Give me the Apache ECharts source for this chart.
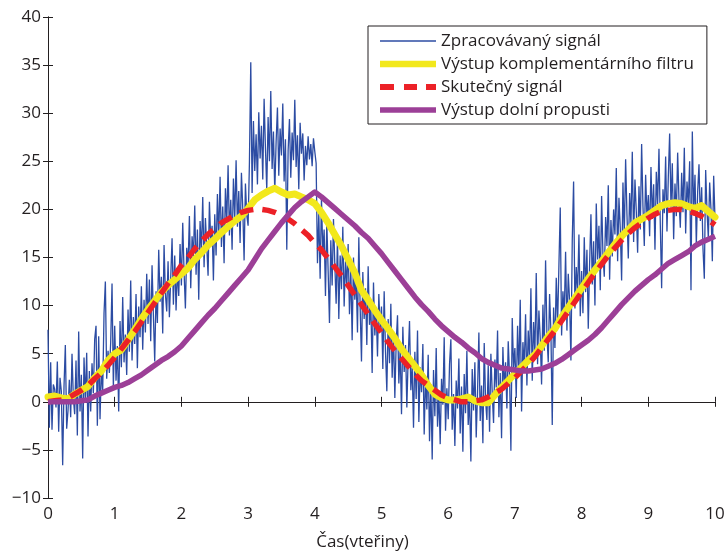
<!DOCTYPE html>
<html>
<head>
<meta charset="utf-8">
<script src="https://cdn.jsdelivr.net/npm/echarts@6/dist/echarts.min.js"></script>
<style>
  html, body { margin: 0; padding: 0; background: #ffffff; }
  #chart { width: 728px; height: 556px; }
</style>
</head>
<body>
<div id="chart"></div>
<script>
// Sampling of the measured (noisy) signal: 0 .. 10 s, every 0.02 s
const noisyStart = 0;
const noisyStep = 0.02;
const noisySignal = [
  7.5, -2.7, 4.1, -2.9, 1.8, 1.3, -0.6, 4.2, -3.1, 2.5, 1.1, -6.6, 1.6, 5.9, -2.8, -0.9, 2.3, -1.6, 5.0, 0.4, -1.3, 4.3, -3.5, 7.3, -1.0,
  2.8, -5.9, 4.6, 0.2, 5.1, -3.6, 3.2, -1.0, 4.0, 0.9, 6.5, 7.9, -2.5, 6.8, -1.8, 3.5, 1.1, 9.2, 12.5, 2.4, 5.3, 3.0, 6.2, 12.3, 1.5,
  7.9, 2.2, 5.8, -1.0, 8.4, 3.6, 10.9, 4.1, 7.0, 2.8, 9.6, 5.2, 12.6, 4.3, 8.8, 6.0, 11.2, 3.5, 9.9, 6.7, 12.0, 5.4, 10.6, 7.2, 13.3,
  8.1, 12.7, 6.3, 14.2, 9.0, 4.2, 11.5, 8.2, 15.8, 10.4, 13.0, 7.1, 16.3, 11.2, 9.4, 14.6, 8.8, 12.9, 17.0, 10.1, 15.2, 9.5, 13.8, 11.0, 16.4,
  12.1, 18.6, 13.5, 9.7, 16.0, 14.1, 19.3, 11.8, 17.2, 15.0, 20.4, 13.2, 17.9, 10.6, 18.8, 15.6, 21.3, 14.0, 19.1, 16.2, 13.1, 20.8, 16.7, 18.3, 12.6,
  19.5, 15.2, 21.6, 17.0, 23.4, 16.1, 20.3, 14.4, 22.2, 18.6, 24.6, 17.3, 21.0, 15.8, 23.2, 19.0, 25.1, 18.2, 21.9, 16.5, 23.8, 20.1, 14.7, 22.7, 19.4,
  18.3, 24.9, 35.3, 21.7, 29.2, 24.0, 27.8, 22.6, 30.1, 25.3, 28.7, 23.1, 31.5, 26.4, 22.0, 29.6, 25.0, 32.3, 24.2, 28.1, 21.8, 27.0, 30.6, 23.5, 28.4,
  25.6, 31.0, 22.9, 27.3, 15.8, 26.1, 29.4, 23.3, 28.0, 25.1, 31.4, 24.4, 27.7, 22.1, 29.0, 25.8, 27.9, 23.0, 26.6, 24.6, 27.6, 25.2, 26.8, 24.5, 27.4,
  26.0, 24.8, 14.4, 19.6, 12.8, 21.2, 15.5, 17.9, 11.0, 18.7, 13.6, 8.2, 16.8, 12.1, 19.0, 14.3, 10.2, 17.1, 8.6, 15.2, 11.7, 18.2, 9.9, 14.6, 12.0,
  16.4, 9.1, 13.8, 6.4, 15.0, 10.6, 12.9, 7.2, 17.1, 9.8, 4.2, 13.5, 8.6, 11.8, 5.9, 14.1, 8.0, 10.3, 3.0, 12.4, 6.9, 9.6, 4.7, 11.2, 7.5,
  9.9, 3.4, 11.5, 5.2, 1.1, 8.6, 4.0, 10.2, 2.5, 7.3, 0.4, 6.1, 9.0, 1.9, 5.5, -1.3, 7.8, 3.1, 5.9, -0.6, 4.6, 8.4, 1.2, 3.8, -2.7,
  5.2, 0.3, 7.4, -2.1, 3.6, 1.0, 6.0, -3.4, 2.7, -0.8, 4.9, -4.1, 1.8, -6.0, 3.3, -1.5, 5.6, -2.6, 0.9, -4.4, 2.4, -0.3, 6.7, -3.0, 1.4,
  -1.8, 3.9, 6.5, -2.9, 0.8, -4.6, 2.2, -0.7, 4.5, -3.3, 1.6, -5.2, 2.9, -1.2, 5.3, -2.4, 0.5, -6.2, 3.4, -0.9, 4.1, -3.7, 1.0, 7.2, -2.0,
  1.7, -4.3, 6.1, 0.2, -1.9, 3.8, -3.1, 5.0, 0.9, -2.2, 4.4, 1.5, 7.4, -1.6, 3.0, -3.8, 5.7, 1.2, 4.1, -0.7, 6.3, 2.6, -5.1, 8.7, 3.5,
  5.6, 0.4, 7.9, 2.8, 10.6, -1.0, 6.2, 3.5, 9.1, 1.7, 7.4, 4.4, 11.8, 2.2, 8.3, 5.0, 13.4, 3.9, 9.5, 6.6, 1.8, 10.1, 5.3, 14.7, 7.0,
  4.1, 11.2, 7.3, -2.4, 9.8, 5.6, 12.9, 8.0, 14.2, 20.2, 6.9, 11.5, 9.0, 15.6, 7.4, 13.3, 10.5, 4.3, 16.8, 22.9, 9.7, 14.0, 11.3, 17.4, 8.9,
  13.6, 9.2, 17.1, 11.4, 15.8, 7.6, 14.3, 19.5, 12.2, 16.7, 10.0, 20.6, 14.8, 18.3, 11.6, 21.4, 15.3, 13.0, 19.2, 16.2, 22.5, 12.7, 18.9, 15.1, 20.0,
  17.4, 24.3, 14.6, 21.2, 18.0, 12.6, 22.8, 17.1, 25.2, 19.5, 14.9, 21.7, 18.4, 26.0, 16.6, 23.1, 19.8, 15.5, 22.4, 17.9, 26.8, 20.3, 16.2, 23.6, 19.1,
  21.5, 17.2, 24.4, 19.0, 22.6, 15.8, 23.9, 20.5, 26.3, 18.4, 11.8, 22.1, 19.6, 25.5, 17.7, 23.4, 27.9, 20.2, 24.8, 16.9, 22.7, 19.3, 25.9, 21.0, 18.1,
  23.8, 19.7, 26.4, 17.5, 22.9, 20.6, 25.0, 11.6, 28.1, 19.4, 23.6, 16.3, 21.8, 24.7, 18.8, 22.3, 15.9, 12.8, 24.1, 19.9, 17.0, 22.8, 20.0, 14.6, 23.5,
  19.0
];

// Smooth curves are sampled every 0.1 s
const smoothStart = 0;
const smoothStep = 0.1;

// Výstup komplementárního filtru
const complementaryOutput = [
  0.5, 0.6, 0.4, 0.3, 0.8, 1.2, 1.6, 2.5, 3.2, 4.3,
  5.0, 5.4, 6.4, 7.5, 8.6, 9.6, 10.5, 11.4, 12.1, 12.7,
  13.3, 13.9, 14.8, 15.5, 16.3, 16.9, 17.6, 18.2, 18.8, 19.3,
  20.1, 21.0, 21.5, 21.9, 22.2, 21.8, 21.5, 21.6, 21.3, 21.0,
  20.6, 19.7, 18.6, 17.4, 16.2, 14.8, 13.4, 11.6, 10.6, 9.5,
  8.5, 7.6, 6.6, 5.5, 4.6, 3.7, 2.8, 1.7, 0.8, 0.4,
  0.2, 0.2, 0.3, 0.5, 0.1, -0.1, -0.1, 0.7, 1.5, 2.2,
  2.9, 3.6, 4.3, 4.9, 5.8, 6.8, 7.6, 8.8, 9.8, 10.8,
  11.8, 12.8, 13.7, 14.6, 15.5, 16.4, 17.2, 17.9, 18.6, 19.0,
  19.4, 19.9, 20.4, 20.6, 20.7, 20.6, 20.3, 20.1, 20.4, 19.8,
  19.2
];

// Skutečný signál
const trueSignal = [
  0.0, 0.1, 0.2, 0.4, 0.8, 1.2, 1.7, 2.4, 3.0, 3.8,
  4.6, 5.5, 6.4, 7.3, 8.3, 9.3, 10.3, 11.3, 12.3, 13.2,
  14.2, 15.0, 15.9, 16.7, 17.4, 18.0, 18.6, 19.0, 19.4, 19.7,
  19.9, 20.0, 20.0, 19.9, 19.7, 19.4, 19.0, 18.5, 17.9, 17.3,
  16.5, 15.8, 14.9, 14.0, 13.1, 12.1, 11.1, 10.1, 9.1, 8.1,
  7.2, 6.2, 5.3, 4.5, 3.7, 2.9, 2.2, 1.7, 1.2, 0.7,
  0.4, 0.2, 0.0, 0.0, 0.1, 0.2, 0.5, 0.9, 1.3, 1.9,
  2.5, 3.2, 3.9, 4.7, 5.6, 6.5, 7.4, 8.4, 9.4, 10.4,
  11.4, 12.4, 13.4, 14.3, 15.2, 16.0, 16.8, 17.5, 18.1, 18.6,
  19.1, 19.5, 19.8, 19.9, 20.0, 20.0, 19.8, 19.6, 19.3, 18.9,
  18.4
];

// Výstup dolní propusti
const lowPassOutput = [
  0.0, 0.0, 0.0, 0.0, 0.0, 0.1, 0.2, 0.6, 0.9, 1.2,
  1.5, 1.7, 2.0, 2.4, 2.8, 3.3, 3.8, 4.3, 4.7, 5.2,
  5.8, 6.6, 7.4, 8.2, 9.0, 9.7, 10.5, 11.3, 12.1, 12.9,
  13.7, 14.8, 15.9, 16.8, 17.7, 18.6, 19.4, 20.2, 20.8, 21.3,
  21.8, 21.3, 20.7, 20.1, 19.5, 18.9, 18.3, 17.6, 17.0, 16.2,
  15.4, 14.5, 13.6, 12.7, 11.8, 10.9, 10.1, 9.4, 8.6, 7.9,
  7.3, 6.7, 6.2, 5.6, 5.1, 4.5, 4.1, 3.8, 3.5, 3.4,
  3.3, 3.2, 3.2, 3.3, 3.4, 3.7, 4.0, 4.4, 4.9, 5.4,
  5.9, 6.4, 7.0, 7.7, 8.5, 9.3, 10.1, 10.8, 11.5, 12.1,
  12.7, 13.2, 13.8, 14.4, 14.8, 15.2, 15.6, 16.2, 16.6, 16.9,
  17.2
];

const seriesNames = [
  'Zpracovávaný signál',
  'Výstup komplementárního filtru',
  'Skutečný signál',
  'Výstup dolní propusti'
];
const xTicks = { min: 0, max: 10, step: 1 };
const yTicks = { min: -10, max: 40, step: 5 };
const xAxisTitle = 'Čas(vteřiny)';

function withTime(values, start, step) {
  return values.map((v, i) => [+(start + i * step).toFixed(3), v]);
}

// Legend swatches drawn as filled paths in a 56 x 14 box; the two bare
// move-to points pin the box so the bar keeps its thickness when scaled.
const SW = 56, SH = 14;
function barIcon(thickness) {
  const y0 = (SH - thickness) / 2, y1 = y0 + thickness;
  return `path://M0,0M${SW},${SH}M0,${y0}H${SW}V${y1}H0Z`;
}
function dashIcon(thickness, segments) {
  const y0 = (SH - thickness) / 2, y1 = y0 + thickness;
  let d = `M0,0M${SW},${SH}`;
  segments.forEach(([a, b]) => { d += `M${a},${y0}H${b}V${y1}H${a}Z`; });
  return 'path://' + d;
}

const colors = {
  noisy: '#2c4ca3',
  complementary: '#f2e81c',
  truth: '#ec2127',
  lowPass: '#9c3f97'
};

const textColor = '#231f20';
const fontFamily = '"Open Sans", "Noto Sans", sans-serif';
const frame = { show: true, lineStyle: { color: textColor, width: 1 } };
const innerTicks = { show: true, inside: true, length: 5, lineStyle: { color: textColor, width: 1 } };

const chart = echarts.init(document.getElementById('chart'), null, { renderer: 'canvas' });

chart.setOption({
  animation: false,
  backgroundColor: '#ffffff',
  textStyle: { fontFamily: fontFamily, color: textColor },
  grid: { left: 48, right: 13, top: 17, bottom: 52, containLabel: false },
  legend: {
    orient: 'vertical',
    left: 368,
    top: 26,
    padding: [5, 13, 4, 12],
    backgroundColor: '#ffffff',
    borderColor: textColor,
    borderWidth: 1,
    borderRadius: 0,
    itemWidth: SW,
    itemHeight: SH,
    itemGap: 3,
    itemStyle: { borderWidth: 0 },
    textStyle: { fontFamily: fontFamily, fontSize: 17, color: textColor, lineHeight: 20 },
    data: [
      { name: seriesNames[0], icon: barIcon(1.3), itemStyle: { color: colors.noisy, borderWidth: 0 } },
      { name: seriesNames[1], icon: barIcon(6.5), itemStyle: { color: colors.complementary, borderWidth: 0 } },
      { name: seriesNames[2], icon: dashIcon(6, [[0, 14], [24, 37], [46, 56]]), itemStyle: { color: colors.truth, borderWidth: 0 } },
      { name: seriesNames[3], icon: barIcon(5.5), itemStyle: { color: colors.lowPass, borderWidth: 0 } }
    ]
  },
  xAxis: [
    {
      type: 'value', min: xTicks.min, max: xTicks.max, interval: xTicks.step,
      position: 'bottom',
      axisLine: frame, axisTick: innerTicks, splitLine: { show: false },
      axisLabel: { fontFamily: fontFamily, fontSize: 17, color: textColor, margin: 8 },
      name: xAxisTitle, nameLocation: 'middle', nameGap: 36,
      nameTextStyle: { fontFamily: fontFamily, fontSize: 17, color: textColor, padding: [0, 38, 0, 0] }
    },
    {
      type: 'value', min: xTicks.min, max: xTicks.max, interval: xTicks.step,
      position: 'top',
      axisLine: frame, axisTick: innerTicks, splitLine: { show: false },
      axisLabel: { show: false }
    }
  ],
  yAxis: [
    {
      type: 'value', min: yTicks.min, max: yTicks.max, interval: yTicks.step,
      position: 'left',
      axisLine: frame, axisTick: innerTicks, splitLine: { show: false },
      axisLabel: {
        fontFamily: fontFamily, fontSize: 17, color: textColor, margin: 7,
        formatter: v => String(v).replace('-', '\u2212')
      }
    },
    {
      type: 'value', min: yTicks.min, max: yTicks.max, interval: yTicks.step,
      position: 'right',
      axisLine: frame, axisTick: innerTicks, splitLine: { show: false },
      axisLabel: { show: false }
    }
  ],
  series: [
    {
      name: seriesNames[0], type: 'line', xAxisIndex: 0, yAxisIndex: 0,
      showSymbol: false, symbol: 'none', silent: true,
      lineStyle: { color: colors.noisy, width: 1.3 },
      itemStyle: { color: colors.noisy },
      data: withTime(noisySignal, noisyStart, noisyStep)
    },
    {
      name: seriesNames[1], type: 'line', xAxisIndex: 0, yAxisIndex: 0,
      showSymbol: false, symbol: 'none', silent: true,
      lineStyle: { color: colors.complementary, width: 7, join: 'round', cap: 'round' },
      itemStyle: { color: colors.complementary },
      data: withTime(complementaryOutput, smoothStart, smoothStep)
    },
    {
      name: seriesNames[2], type: 'line', xAxisIndex: 0, yAxisIndex: 0,
      showSymbol: false, symbol: 'none', silent: true,
      lineStyle: { color: colors.truth, width: 5.5, type: [14, 9] },
      itemStyle: { color: colors.truth },
      data: withTime(trueSignal, smoothStart, smoothStep)
    },
    {
      name: seriesNames[3], type: 'line', xAxisIndex: 0, yAxisIndex: 0,
      showSymbol: false, symbol: 'none', silent: true,
      lineStyle: { color: colors.lowPass, width: 5.5, join: 'round' },
      itemStyle: { color: colors.lowPass },
      data: withTime(lowPassOutput, smoothStart, smoothStep)
    }
  ]
});
</script>
</body>
</html>
